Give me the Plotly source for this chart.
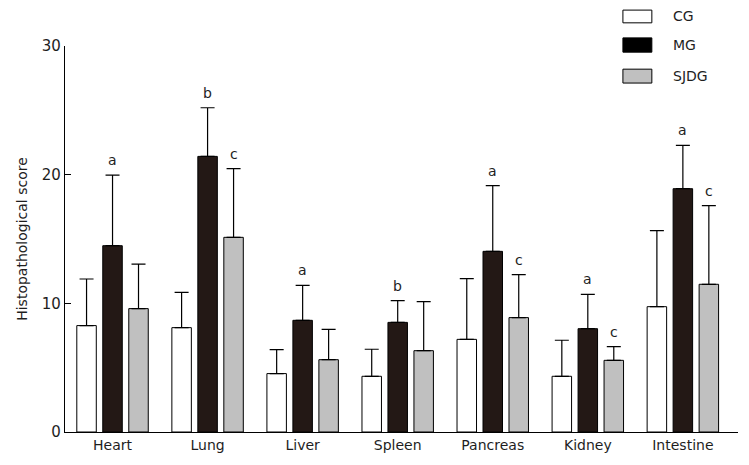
import plotly.graph_objects as go

categories = ["Heart", "Lung", "Liver", "Spleen", "Pancreas", "Kidney", "Intestine"]
groups = ["CG", "MG", "SJDG"]
cg_mean = [8.27, 8.11, 4.54, 4.33, 7.20, 4.33, 9.74]
cg_sd = [3.62, 2.74, 1.86, 2.10, 4.72, 2.80, 5.91]
mg_mean = [14.48, 21.42, 8.68, 8.52, 14.04, 8.03, 18.91]
mg_sd = [5.49, 3.78, 2.72, 1.69, 5.11, 2.67, 3.37]
sj_mean = [9.59, 15.13, 5.62, 6.32, 8.89, 5.57, 11.48]
sj_sd = [3.46, 5.34, 2.36, 3.81, 3.34, 1.07, 6.11]
sig_mg = ["a", "b", "a", "b", "a", "a", "a"]
sig_sj = ["", "c", "", "", "c", "c", "c"]
y_ticks = [0, 10, 20, 30]

FONT = "DejaVu Sans"
TXT = "#1e1e1e"
fills = ["#ffffff", "#231815", "#c0c0c0"]
legend_fills = ["#ffffff", "#000000", "#c0c0c0"]
means = [cg_mean, mg_mean, sj_mean]
sds = [cg_sd, mg_sd, sj_sd]
sigs = [None, sig_mg, sig_sj]

bargap = 0.18
slot = (1 - bargap) / 3
xs = list(range(len(categories)))

fig = go.Figure()
for k in range(3):
    fig.add_trace(go.Bar(
        x=xs, y=means[k], name=groups[k],
        marker=dict(color=fills[k], line=dict(color="#000000", width=1)),
        error_y=dict(type="data", symmetric=False, array=sds[k],
                     arrayminus=[0] * len(xs), color="#000000",
                     thickness=1.2, width=7),
        showlegend=False,
    ))

annotations = []
for k in (1, 2):
    for i, s in enumerate(sigs[k]):
        if s:
            annotations.append(dict(
                x=i + (k - 1) * slot, y=means[k][i] + sds[k][i],
                xref="x", yref="y", text=s, showarrow=False,
                yanchor="bottom", yshift=5,
                font=dict(family=FONT, size=14, color=TXT)))

# custom legend (above plot area, top right)
box_top = [1.093, 1.021, 0.940]
box_bot = [1.060, 0.984, 0.904]
for k in range(3):
    fig.add_shape(type="rect", xref="paper", yref="paper",
                  x0=0.829, x1=0.872, y0=box_bot[k], y1=box_top[k],
                  fillcolor=legend_fills[k],
                  line=dict(color="#000000", width=1), layer="above")
    annotations.append(dict(
        x=0.901, y=(box_top[k] + box_bot[k]) / 2, xref="paper", yref="paper",
        text=groups[k], showarrow=False, xanchor="left", yanchor="middle",
        font=dict(family=FONT, size=14, color=TXT)))

fig.update_layout(
    width=749, height=465,
    margin=dict(l=65, r=11, t=46, b=33),
    paper_bgcolor="#ffffff", plot_bgcolor="#ffffff",
    barmode="group", bargap=bargap, bargroupgap=0.25,
    font=dict(family=FONT, size=14, color=TXT),
    annotations=annotations,
)
fig.update_xaxes(
    range=[-0.5, 6.58], tickvals=xs, ticktext=categories,
    showline=True, linecolor="#000000", linewidth=1.2,
    ticks="", showgrid=False, zeroline=False,
    tickfont=dict(family=FONT, size=14, color=TXT),
)
fig.update_yaxes(
    range=[0, 30], tickvals=y_ticks,
    showline=True, linecolor="#000000", linewidth=1.2,
    ticks="inside", ticklen=6, tickcolor="#000000",
    showgrid=False, zeroline=False,
    tickfont=dict(family=FONT, size=15, color=TXT),
    title=dict(text="Histopathological score", font=dict(family=FONT, size=14, color=TXT), standoff=10),
)

fig.write_html("out.html", config={"displayModeBar": False},
               post_script="document.body.style.margin='0';document.body.style.overflow='hidden';")
